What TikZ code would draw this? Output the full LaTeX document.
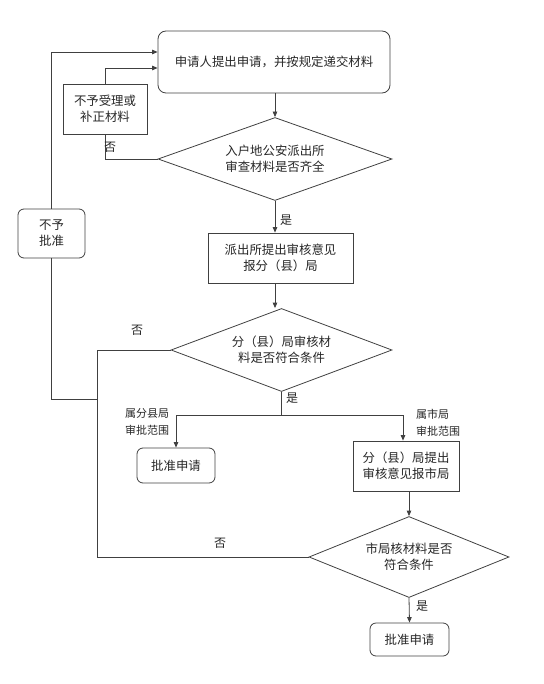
\documentclass[tikz,border=0pt]{standalone}
\usepackage{fontspec}
\setmainfont{Noto Sans CJK SC}
\usetikzlibrary{positioning, arrows.meta, shapes.geometric}

\begin{document}
\begin{tikzpicture}[x=1pt, y=-1pt,
    box/.style={draw=black!75, line width=0.8pt, inner sep=0pt, align=center, text=black!85, font=\fontsize{12.4}{16}\selectfont},
    rbox/.style={box, rounded corners=6pt},
    dec/.style={box, diamond, shape aspect=2.6},
    lbl/.style={inner sep=0pt, text=black!85, align=left, font=\fontsize{11}{17}\selectfont},
    ln/.style={draw=black!75, line width=0.8pt},
    arr/.style={ln, -{Triangle[length=5.5pt, width=4.5pt]}}]
    \useasboundingbox (0,0) rectangle (543,684);
    % Application
    \node (apply) at (274,62) [rbox, rounded corners=8pt, minimum width=232pt, minimum height=62pt] {申请人提出申请，并按规定递交材料};
    \node (refuse) at (105,109) [box, minimum width=84pt, minimum height=50pt] {不予受理或\\补正材料};
    \node (reject) at (51.5,233.5) [rbox, minimum width=67pt, minimum height=49pt] {不予\\批准};
    % Police station
    \node (chk1) at (275,159) [dec, minimum width=234pt, minimum height=83pt] {入户地公安派出所\\审查材料是否齐全};
    \node (report) at (280.5,258) [box, minimum width=145pt, minimum height=50pt] {派出所提出审核意见\\报分（县）局};
    % County bureau
    \node (chk2) at (281.5,350) [dec, minimum width=221pt, minimum height=83pt] {分（县）局审核材\\料是否符合条件};
    \node (ok1) at (176,465.5) [rbox, minimum width=78pt, minimum height=35pt] {批准申请};
    \node (tocity) at (406,466) [box, minimum width=106pt, minimum height=50pt] {分（县）局提出\\审核意见报市局};
    % City bureau
    \node (chk3) at (409,557) [dec, minimum width=200pt, minimum height=81pt] {市局核材料是否\\符合条件};
    \node (ok2) at (409.5,639.5) [rbox, minimum width=79pt, minimum height=33pt] {批准申请};
    % Flow
    \draw [arr] (apply.south -| chk1.north) -- (chk1.north);
    \draw [arr] (chk1.south) -- (chk1.south |- report.north);
    \draw [arr] (chk1.south |- report.south) -- (chk1.south |- chk2.north);
    \draw [ln] (chk1.west) -| (refuse.south);
    \draw [arr] (refuse.north) |- ([yshift=-6pt]apply.west);
    \draw [arr] (reject.north) |- ([yshift=10pt]apply.west);
    \coordinate (join) at (97,399);
    \draw [ln] (reject.south) |- (join);
    \draw [ln] (chk2.west) -| (join);
    \draw [ln] (chk3.west) -| (join);
    \coordinate (split) at (281.5,415);
    \draw [ln] (chk2.south) -- (split);
    \draw [arr] (split) -| (ok1.north);
    \draw [arr] (split) -| ([xshift=-3pt]tocity.north);
    \draw [arr] (chk3.north |- tocity.south) -- (chk3.north);
    \draw [arr] (chk3.south) -- (ok2.north);
    % Labels
    \node (no1) at (110,147) [lbl, font=\fontsize{12}{14}\selectfont] {否};
    \node (yes1) at (286,220) [lbl, font=\fontsize{12}{14}\selectfont] {是};
    \node (no2) at (137,330) [lbl, font=\fontsize{12}{14}\selectfont] {否};
    \node (yes2) at (292,398) [lbl, font=\fontsize{12}{14}\selectfont] {是};
    \node (scope1) at (125,421.5) [lbl, anchor=west] {属分县局\\审批范围};
    \node (scope2) at (416,422.5) [lbl, anchor=west] {属市局\\审批范围};
    \node (no3) at (220,543) [lbl, font=\fontsize{12}{14}\selectfont] {否};
    \node (yes3) at (422,606) [lbl, font=\fontsize{12}{14}\selectfont] {是};
\end{tikzpicture}
\end{document}
